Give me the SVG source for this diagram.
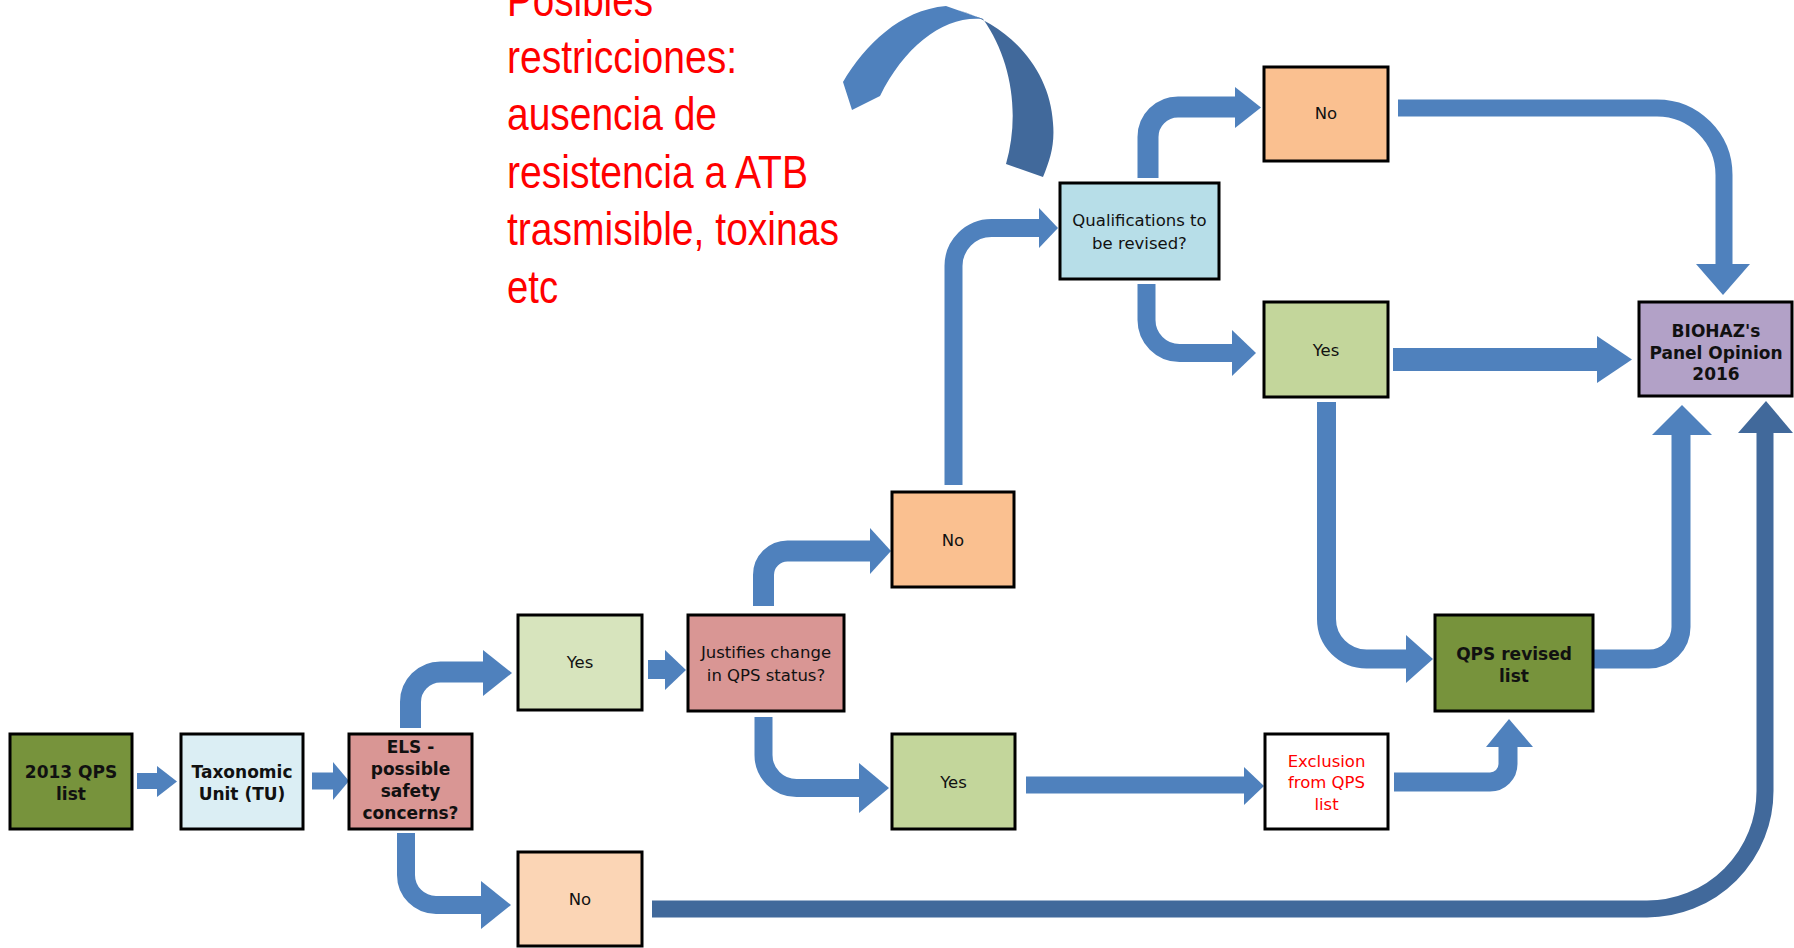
<svg xmlns="http://www.w3.org/2000/svg" width="1794" height="948" viewBox="0 0 1794 948">
<style>
.box{stroke:#000;stroke-width:3}
.t{font-family:"DejaVu Sans","Liberation Sans",sans-serif;font-size:16.5px;fill:#111;text-anchor:middle}
.b{font-weight:bold;font-size:17px}
.red{fill:#ff0000}
.sh{fill:none;stroke:#4f81bd;stroke-linecap:butt}
.hd{fill:#4f81bd}
.dk{stroke:#41699b}
.hdk{fill:#41699b}
.note{font-family:"Liberation Sans",Arial,sans-serif;font-size:46px;fill:#ff0000}
</style>
<rect width="1794" height="948" fill="#fff"/>

<g id="note">
<text class="note" x="507" y="15.5" textLength="146" lengthAdjust="spacingAndGlyphs">Posibles</text>
<text class="note" x="507" y="72.5" textLength="230" lengthAdjust="spacingAndGlyphs">restricciones:</text>
<text class="note" x="507" y="130" textLength="210" lengthAdjust="spacingAndGlyphs">ausencia de</text>
<text class="note" x="507" y="187.5" textLength="301" lengthAdjust="spacingAndGlyphs">resistencia a ATB</text>
<text class="note" x="507" y="245" textLength="332" lengthAdjust="spacingAndGlyphs">trasmisible, toxinas</text>
<text class="note" x="507" y="302.5" textLength="51" lengthAdjust="spacingAndGlyphs">etc</text>
</g>

<g id="ribbon">
<path d="M958,10 C1010,25 1050,70 1053,123 C1055,145 1050,160 1043,177 L1006,164 C1020,115 1012,60 983,19 Z" fill="#41699b"/>
<path d="M843,82 C865,45 900,10 946,6 L983,19 C945,15 905,45 880,96 L852,110 Z" fill="#4f81bd"/>
</g>

<g id="connectors">
<path class="sh" stroke-width="16" d="M137,781 H158"/>
<polygon class="hd" points="157,766 177,781.5 157,797"/>
<path class="sh" stroke-width="17" d="M312,781 H334"/>
<polygon class="hd" points="333,762 349,781 333,800"/>
<path class="sh" stroke-width="21" d="M410.5,728 V702 A30,30 0 0 1 440.5,672 H484"/>
<polygon class="hd" points="483,650 512,673 483,696"/>
<path class="sh" stroke-width="19" d="M648,669.5 H666"/>
<polygon class="hd" points="665,650 686,670 665,690"/>
<path class="sh" stroke-width="18" d="M406,833 V875 A30,30 0 0 0 436,905 H482"/>
<polygon class="hd" points="481,881 511,905 481,929"/>
<path class="sh" stroke-width="21" d="M763.5,606 V575 A24,24 0 0 1 787.5,551 H871"/>
<polygon class="hd" points="870,528 891,551 870,574"/>
<path class="sh" stroke-width="18" d="M763.5,717 V755 A33,33 0 0 0 796.5,788 H860"/>
<polygon class="hd" points="859,763 889,788 859,813"/>
<path class="sh" stroke-width="17" d="M1026,785 H1245"/>
<polygon class="hd" points="1244,767 1264,786 1244,805"/>
<path class="sh" stroke-width="19" d="M1394,782 H1490 A18,18 0 0 0 1508,764 V746"/>
<polygon class="hd" points="1486,747 1509,719 1533,747"/>
<path class="sh" stroke-width="18" d="M953.5,485 V266 A38,38 0 0 1 991.5,228 H1040"/>
<polygon class="hd" points="1039,208 1058,228 1039,248"/>
<path class="sh" stroke-width="21" d="M1148,178 V137 A30,30 0 0 1 1178,107 H1236"/>
<polygon class="hd" points="1235,87 1261,107.5 1235,128"/>
<path class="sh" stroke-width="18" d="M1146.5,284 V320 A33,33 0 0 0 1179.5,353 H1233"/>
<polygon class="hd" points="1232,330 1256,353 1232,376"/>
<path class="sh" stroke-width="17" d="M1398,108 H1657 A67,67 0 0 1 1724,175 V265"/>
<polygon class="hd" points="1696,264 1723,295 1750,264"/>
<path class="sh" stroke-width="23" d="M1393,359.5 H1598"/>
<polygon class="hd" points="1597,336 1632,359.5 1597,383"/>
<path class="sh" stroke-width="19" d="M1326.5,402 V619 A40,40 0 0 0 1366.5,659 H1407"/>
<polygon class="hd" points="1406,635 1433,659 1406,683"/>
<path class="sh" stroke-width="19" d="M1594,659 H1649 A32,32 0 0 0 1681,627 V434"/>
<polygon class="hd" points="1652,435 1682,405 1712,435"/>
<path class="sh dk" stroke-width="17" d="M652,909 H1647 A118,118 0 0 0 1765,791 V432"/>
<polygon class="hdk" points="1738,433 1766,401 1793,433"/>
</g>

<g id="n2013">
<rect class="box" x="10" y="734" width="122" height="95" fill="#77933c"/>
<text class="t b" x="71" y="778">2013 QPS</text>
<text class="t b" x="71" y="800">list</text>
</g>
<g id="taxonomic">
<rect class="box" x="181" y="734" width="122" height="95" fill="#dbeef4"/>
<text class="t b" x="242" y="778">Taxonomic</text>
<text class="t b" x="242" y="800">Unit (TU)</text>
</g>
<g id="els">
<rect class="box" x="349" y="734" width="123" height="95" fill="#d99694"/>
<text class="t b" x="410.5" y="753">ELS -</text>
<text class="t b" x="410.5" y="775">possible</text>
<text class="t b" x="410.5" y="797">safety</text>
<text class="t b" x="410.5" y="819">concerns?</text>
</g>
<g id="yes1">
<rect class="box" x="518" y="615" width="124" height="95" fill="#d7e4bd"/>
<text class="t" x="580" y="668">Yes</text>
</g>
<g id="no1">
<rect class="box" x="518" y="852" width="124" height="94" fill="#fbd5b5"/>
<text class="t" x="580" y="905">No</text>
</g>
<g id="justifies">
<rect class="box" x="688" y="615" width="156" height="96" fill="#d99694"/>
<text class="t" x="766" y="658">Justifies change</text>
<text class="t" x="766" y="681">in QPS status?</text>
</g>
<g id="no2">
<rect class="box" x="892" y="492" width="122" height="95" fill="#fac090"/>
<text class="t" x="953" y="546">No</text>
</g>
<g id="yes2">
<rect class="box" x="892" y="734" width="123" height="95" fill="#c3d69b"/>
<text class="t" x="953.5" y="788">Yes</text>
</g>
<g id="qualifications">
<rect class="box" x="1060" y="183" width="159" height="96" fill="#b7dee8"/>
<text class="t" x="1139.5" y="226">Qualifications to</text>
<text class="t" x="1139.5" y="249">be revised?</text>
</g>
<g id="no3">
<rect class="box" x="1264" y="67" width="124" height="94" fill="#fac090"/>
<text class="t" x="1326" y="119">No</text>
</g>
<g id="yes3">
<rect class="box" x="1264" y="302" width="124" height="95" fill="#c3d69b"/>
<text class="t" x="1326" y="356">Yes</text>
</g>
<g id="exclusion">
<rect class="box" x="1265" y="734" width="123" height="95" fill="#fff"/>
<text class="t red" x="1326.5" y="767">Exclusion</text>
<text class="t red" x="1326.5" y="788">from QPS</text>
<text class="t red" x="1326.5" y="810">list</text>
</g>
<g id="qpsrevised">
<rect class="box" x="1435" y="615" width="158" height="96" fill="#77933c"/>
<text class="t b" x="1514" y="660">QPS revised</text>
<text class="t b" x="1514" y="682">list</text>
</g>
<g id="biohaz">
<rect class="box" x="1639" y="302" width="153" height="94" fill="#b2a1c7"/>
<text class="t b" x="1716" y="337">BIOHAZ's</text>
<text class="t b" x="1716" y="359">Panel Opinion</text>
<text class="t b" x="1716" y="380">2016</text>
</g>
</svg>
